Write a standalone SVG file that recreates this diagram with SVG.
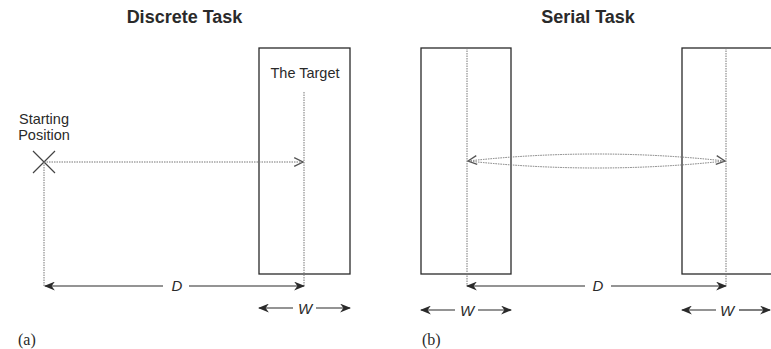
<svg xmlns="http://www.w3.org/2000/svg" width="771" height="349" viewBox="0 0 771 349">
<defs>
<style>
.bg{fill:#fff}
.box{fill:none;stroke:#2a2a2a;stroke-width:1.3}
.dot{fill:none;stroke:#777;stroke-width:1;stroke-dasharray:1.5 1}
.dim{fill:none;stroke:#2a2a2a;stroke-width:1.2}
.title{font-family:"Liberation Sans",Arial,sans-serif;font-weight:bold;font-size:18px;fill:#2a2a2a;text-anchor:middle}
.lbl{font-family:"Liberation Sans",Arial,sans-serif;font-size:14.5px;fill:#2a2a2a;text-anchor:middle}
.var{font-family:"Liberation Sans",Arial,sans-serif;font-style:italic;font-size:15px;fill:#2a2a2a;text-anchor:middle}
.cap{font-family:"Liberation Serif","Times New Roman",serif;font-size:16px;fill:#2a2a2a}
</style>
<marker id="ah" viewBox="0 0 10 8" refX="9" refY="4" markerWidth="11" markerHeight="9" markerUnits="userSpaceOnUse" orient="auto-start-reverse">
<path d="M0,0 L10,4 L0,8 L3,4 Z" fill="#2a2a2a"/>
</marker>
<marker id="oh" viewBox="0 0 10 10" refX="9" refY="5" markerWidth="11" markerHeight="11" markerUnits="userSpaceOnUse" orient="auto-start-reverse">
<path d="M1,1 L9,5 L1,9" fill="none" stroke="#555" stroke-width="1.2"/>
</marker>
</defs>
<rect class="bg" x="0" y="0" width="771" height="349"/>

<text class="title" x="184.5" y="23">Discrete Task</text>
<text class="title" x="588" y="23">Serial Task</text>

<g id="discrete-target">
<rect class="box" x="259" y="48" width="91" height="226"/>
<text class="lbl" x="305" y="78">The Target</text>
</g>
<g id="start">
<text class="lbl" x="44" y="124">Starting</text>
<text class="lbl" x="44" y="140">Position</text>
<path d="M33,151 L55,173 M55,151 L33,173" stroke="#444" stroke-width="1.2" fill="none"/>
</g>
<g id="serial-left">
<rect class="box" x="421" y="48" width="90" height="226"/>
</g>
<g id="serial-right">
<rect class="box" x="682" y="48" width="100" height="226"/>
</g>

<g id="connectors">
<line class="dot" x1="304" y1="92" x2="304" y2="286"/>
<line class="dot" x1="44" y1="162" x2="44" y2="286"/>
<line class="dot" x1="44" y1="162" x2="303" y2="162" marker-end="url(#oh)"/>
<line class="dot" x1="467" y1="48" x2="467" y2="286"/>
<line class="dot" x1="726" y1="48" x2="726" y2="286"/>
<path class="dot" d="M468,161 Q596.5,147 725,161" marker-start="url(#oh)" marker-end="url(#oh)"/>
<path class="dot" d="M468,161 Q596.5,175 725,161"/>

<line class="dim" x1="45" y1="286" x2="163" y2="286" marker-start="url(#ah)"/>
<line class="dim" x1="189" y1="286" x2="304" y2="286" marker-end="url(#ah)"/>
<line class="dim" x1="259" y1="308" x2="293" y2="308" marker-start="url(#ah)"/>
<line class="dim" x1="316" y1="308" x2="350" y2="308" marker-end="url(#ah)"/>

<line class="dim" x1="467" y1="286" x2="585" y2="286" marker-start="url(#ah)"/>
<line class="dim" x1="611" y1="286" x2="726" y2="286" marker-end="url(#ah)"/>
<line class="dim" x1="421" y1="310" x2="455" y2="310" marker-start="url(#ah)"/>
<line class="dim" x1="478" y1="310" x2="511" y2="310" marker-end="url(#ah)"/>
<line class="dim" x1="682" y1="310" x2="716" y2="310" marker-start="url(#ah)"/>
<line class="dim" x1="739" y1="310" x2="770" y2="310" marker-end="url(#ah)"/>
</g>

<text class="var" x="177" y="291">D</text>
<text class="var" x="305" y="314">W</text>
<text class="var" x="598" y="291">D</text>
<text class="var" x="467" y="316">W</text>
<text class="var" x="727" y="316">W</text>

<text class="cap" x="18" y="345">(a)</text>
<text class="cap" x="422" y="345">(b)</text>
</svg>
